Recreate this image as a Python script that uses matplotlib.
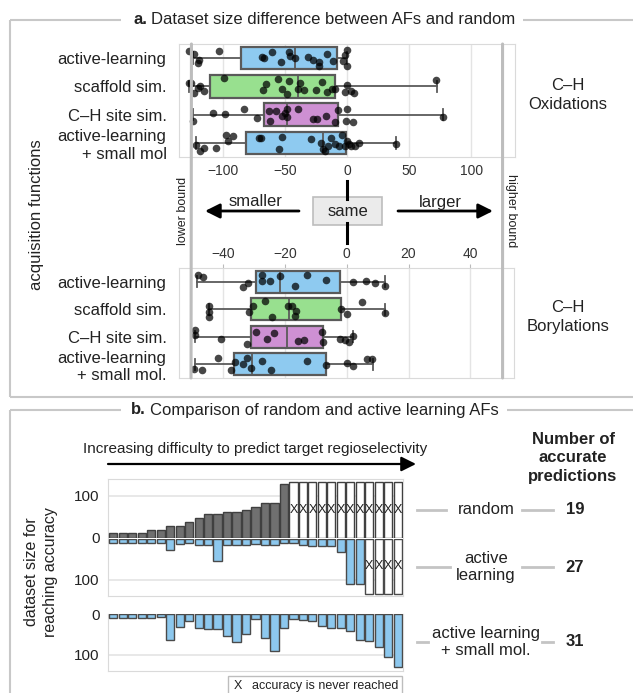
import numpy as np
import matplotlib
matplotlib.use('Agg')
import matplotlib.pyplot as plt
from matplotlib.patches import Rectangle, ConnectionPatch

plt.rcParams['font.family'] = ['Liberation Sans', 'DejaVu Sans']

# ---------------- data ----------------
ox_labels = ['active-learning', 'scaffold sim.', 'C–H site sim.', 'active-learning\n+ small mol']
bo_labels = ['active-learning', 'scaffold sim.', 'C–H site sim.', 'active-learning\n+ small mol.']
box_colors = ['#8ECAF0', '#98E08F', '#CE90D3', '#8ECAF0']

# box statistics (C-H oxidations)
ox_q1 = [-85, -110, -67, -81]
ox_med = [-42, -39, -48, -19]
ox_q3 = [-8, -10, -7, -1]
ox_lo = [-124, -127, -124, -121]
ox_hi = [0, 72, 77, 39]

ox_pts_al = [-127, -122.6, -120, -118.7, -103, -68, -67, -60, -53, -47, -46, -42, -31, -27.5,
             -22.6, -22.6, -16, -11, -3, -1.5, 0, 0]
ox_pts_sc = [-127, -125.5, -122.6, -120, -118, -115, -99, -67.5, -65, -55.8, -52.6, -48.3, -46.7,
             -39.5, -37.8, -34.6, -24.8, -20, -16, -11.9, -10, -2, 0, 3.4, 6, 71.8]
ox_pts_ch = [-124, -108, -98, -83, -72, -63, -62, -57, -52, -50, -48, -48, -39, -27.5, -24, -17,
             -9.6, -7, -0.5, 0, 5, 77]
ox_pts_sm = [-121, -118, -115, -105.6, -97.5, -96, -91.7, -70.5, -69, -55, -52.6, -29, -21, -19.5,
             -18, -15.5, -13, -10, -6.5, -4, -2, 0, 1.6, 3.4, 6.6, 9.3, 39]

# box statistics (C-H borylations)
bo_q1 = [-29.6, -30.9, -31.2, -36.7]
bo_med = [-21.7, -18.7, -19.5, -30.7]
bo_q3 = [-2.2, -1.8, -7.7, -6.8]
bo_lo = [-48.6, -44.6, -49.3, -49.3]
bo_hi = [12.4, 12.4, 2.0, 8.6]

bo_pts_al = [-48.2, -46.6, -33.8, -32, -27.6, -27.6, -25, -21.7, -16.8, -13, -6.9, 2, 6.1, 9, 12.4]
bo_pts_sc = [-44.6, -44.6, -44.6, -31.7, -30.3, -26.5, -24.4, -19.1, -17.9, -16.8, -16.5, -1.9,
             0.2, 5, 12.4]
bo_pts_ch = [-49.3, -49.3, -40.7, -32.5, -29.5, -25.9, -23.5, -15.8, -13.9, -8, -7.7, -2.2, -0.7,
             0.8, 2]
bo_pts_sm = [-49.5, -46.8, -41.7, -37.7, -36.3, -33.6, -32.5, -30.9, -27.6, -24.6, -12.8, -6.9,
             0.1, 2, 6.4, 8.2]

ox_ticks = [-100, -50, 0, 50, 100]
bo_ticks = [-40, -20, 0, 20, 40]
ox_bounds = [-125, 125]
bo_bounds = [-50.5, 50.5]

# panel b: dataset size needed to reach accuracy (per target, sorted by difficulty)
n_targets = 31
rand_vals = [10, 10, 10, 10, 18, 19, 28, 28, 38, 46, 56, 56, 60, 60, 66, 72, 82, 82, 128]
al_vals = [10, 10, 10, 10, 10, 10, 28, 14, 11, 16, 16, 55, 16, 16, 16, 14, 16, 16, 11, 11,
           16, 18, 18, 18, 32, 111, 111]
alsm_vals = [10, 10, 10, 10, 11, 8, 65, 33, 18, 34, 38, 38, 55, 69, 48, 13, 59, 90, 34, 12,
             15, 18, 29, 34, 34, 41, 63, 67, 82, 106, 131]
never_height = 134
row_names = ['random', 'active\nlearning', 'active learning\n+ small mol.']

# ---------------- figure ----------------
W, H = 633, 693
fig = plt.figure(figsize=(W / 100, H / 100), dpi=100)


def px_axes(x0, y0, x1, y1, **kw):
    return fig.add_axes([x0 / W, 1 - y1 / H, (x1 - x0) / W, (y1 - y0) / H], **kw)


bg = px_axes(0, 0, W, H)
bg.set_xlim(0, W)
bg.set_ylim(H, 0)
bg.axis('off')
bg.set_zorder(-5)

FRAME = '#C8C8C8'
GRID = '#E4E4E4'
SPINE = '#DADADA'
TXT = '#222222'


def box_panel(ax, q1, med, q3, lo, hi, pts_list, labels, xlim, ticks, ticks_top):
    stats = []
    for i in range(4):
        stats.append(dict(q1=q1[i], med=med[i], q3=q3[i], whislo=lo[i], whishi=hi[i], label=''))
    bp = ax.bxp(stats, positions=range(4), widths=0.8, orientation='horizontal', patch_artist=True,
                showfliers=False, capwidths=0.4,
                boxprops=dict(edgecolor='#5A5A5A', linewidth=1.6),
                medianprops=dict(color='#5A5A5A', linewidth=1.3),
                whiskerprops=dict(color='#5A5A5A', linewidth=1.3),
                capprops=dict(color='#5A5A5A', linewidth=1.3))
    for patch, c in zip(bp['boxes'], box_colors):
        patch.set_facecolor(c)
    rng = np.random.default_rng(3)
    for i, pts in enumerate(pts_list):
        jit = rng.uniform(-0.3, 0.3, len(pts))
        ax.scatter(pts, i + jit, s=30, color='black', alpha=0.72, linewidths=0, zorder=5)
    ax.set_ylim(3.5, -0.5)
    ax.set_xlim(*xlim)
    ax.set_yticks(range(4))
    ax.set_yticklabels(labels, fontsize=12, color=TXT)
    ax.set_xticks(ticks)
    ax.set_xticklabels([str(t).replace('-', '−') for t in ticks], fontsize=10, color='#333333')
    ax.grid(axis='x', color=GRID, linewidth=1)
    ax.set_axisbelow(True)
    for s in ax.spines.values():
        s.set_color(SPINE)
    ax.tick_params(axis='y', length=0, pad=9)
    if ticks_top:
        ax.xaxis.tick_top()
        ax.tick_params(axis='x', length=3, color='#BBBBBB', pad=2)
    else:
        ax.tick_params(axis='x', length=0, pad=5)


ax_ox = px_axes(179, 44, 515, 157)
box_panel(ax_ox, ox_q1, ox_med, ox_q3, ox_lo, ox_hi,
          [ox_pts_al, ox_pts_sc, ox_pts_ch, ox_pts_sm], ox_labels, (-135, 135), ox_ticks, False)
ax_bo = px_axes(179, 268, 514, 378)
box_panel(ax_bo, bo_q1, bo_med, bo_q3, bo_lo, bo_hi,
          [bo_pts_al, bo_pts_sc, bo_pts_ch, bo_pts_sm], bo_labels, (-54.4, 54.2), bo_ticks, True)

# bound lines spanning both box panels
for b_top, b_bot in zip(ox_bounds, bo_bounds):
    con = ConnectionPatch(xyA=(b_top, 1), coordsA=ax_ox.get_xaxis_transform(),
                          xyB=(b_bot, 0), coordsB=ax_bo.get_xaxis_transform(),
                          color='#BDBDBD', linewidth=2.2, zorder=3)
    fig.add_artist(con)


def panel_title(x_left, y, letter, rest):
    t = bg.text(x_left, y, letter, fontsize=12, fontweight='bold', ha='left', va='center', color=TXT)
    bg.annotate(rest, xy=(1, 0.5), xycoords=t, xytext=(3, 0), textcoords='offset points',
                fontsize=12, ha='left', va='center', color=TXT)


# panel a frame and title
for (x0, y0, x1, y1) in [(10, 20, 121, 20), (523, 20, 633, 20), (10, 20, 10, 397), (10, 397, 633, 397)]:
    bg.plot([x0, x1], [y0, y1], color=FRAME, linewidth=1.5, solid_capstyle='butt')
panel_title(133, 20, 'a.', 'Dataset size difference between AFs and random')
bg.text(568, 95, 'C–H\nOxidations', fontsize=12, ha='center', va='center', color=TXT, linespacing=1.3)
bg.text(568, 317, 'C–H\nBorylations', fontsize=12, ha='center', va='center', color=TXT, linespacing=1.3)
bg.text(37, 215, 'acquisition functions', fontsize=12, rotation=90, ha='center', va='center', color=TXT)
bg.text(183, 211, 'lower bound', fontsize=9, rotation=90, ha='center', va='center', color=TXT)
bg.text(511, 211, 'higher bound', fontsize=9, rotation=270, ha='center', va='center', color=TXT)

# smaller / same / larger
bg.annotate('', xy=(205, 211), xytext=(299, 211),
            arrowprops=dict(arrowstyle='-|>', color='black', lw=2, mutation_scale=22, shrinkA=0, shrinkB=0))
bg.annotate('', xy=(493, 211), xytext=(398, 211),
            arrowprops=dict(arrowstyle='-|>', color='black', lw=2, mutation_scale=22, shrinkA=0, shrinkB=0))
bg.text(256, 202, 'smaller', fontsize=12, ha='center', va='center', color=TXT)
bg.text(440, 202, 'larger', fontsize=12, ha='center', va='center', color=TXT)
bg.plot([347, 347], [181, 199], color='black', linewidth=2.2)
bg.plot([347, 347], [223, 243], color='black', linewidth=2.2)
bg.add_patch(Rectangle((313, 197), 69, 28, facecolor='#EBEBEB', edgecolor='#BDBDBD', linewidth=1.2))
bg.text(347.5, 211.5, 'same', fontsize=12, ha='center', va='center', color=TXT)

# ---------------- panel b ----------------
for (x0, y0, x1, y1) in [(10, 410, 121, 410), (507, 410, 633, 410), (10, 410, 10, 693)]:
    bg.plot([x0, x1], [y0, y1], color=FRAME, linewidth=1.5, solid_capstyle='butt')
panel_title(131, 410, 'b.', 'Comparison of random and active learning AFs')
bg.text(255, 449, 'Increasing difficulty to predict target regioselectivity', fontsize=11,
        ha='center', va='center', color=TXT)
bg.annotate('', xy=(416, 464), xytext=(108, 464),
            arrowprops=dict(arrowstyle='-|>', color='black', lw=1.6, mutation_scale=22, shrinkA=0, shrinkB=0))
bg.text(573, 458, 'Number of\naccurate\npredictions', fontsize=12, fontweight='bold',
        ha='center', va='center', color=TXT, linespacing=1.3)
bg.text(41, 572, 'dataset size for\nreaching accuracy', fontsize=11.5, rotation=90,
        ha='center', va='center', color=TXT, linespacing=1.25)

GRAY_FC, GRAY_EC = '#707070', '#404040'
BLUE_FC, BLUE_EC = '#8DC8EE', '#4A4A4A'


def bar_panel(ax, vals, fc, ec, inverted, yticks):
    x = np.arange(n_targets)
    n = len(vals)
    ax.bar(x[:n], vals, width=0.86, color=fc, edgecolor=ec, linewidth=1, zorder=3)
    if n < n_targets:
        ax.bar(x[n:], [never_height] * (n_targets - n), width=0.86, color='white', edgecolor=ec,
               linewidth=1, zorder=3)
        for xi in x[n:]:
            ax.text(xi, never_height / 2, 'X', ha='center', va='center', fontsize=9, color='#222222',
                    zorder=4)
    ax.set_xlim(-0.55, n_targets - 0.45)
    if inverted:
        ax.set_ylim(140, 0)
    else:
        ax.set_ylim(0, 140)
    ax.set_xticks([])
    ax.set_yticks(yticks)
    ax.set_yticklabels([str(t) for t in yticks], fontsize=11, color=TXT)
    ax.tick_params(axis='y', length=0, pad=6)
    ax.grid(axis='y', color=GRID, linewidth=1.2, zorder=0)
    ax.set_axisbelow(True)
    for s in ax.spines.values():
        s.set_color(SPINE)


ax_r = px_axes(108, 479, 403, 537.5)
bar_panel(ax_r, rand_vals, GRAY_FC, GRAY_EC, False, [0, 100])
ax_r.spines['bottom'].set_visible(False)
ax_a = px_axes(108, 538.5, 403, 596)
bar_panel(ax_a, al_vals, BLUE_FC, BLUE_EC, True, [100])
ax_a.spines['top'].set_visible(False)
ax_s = px_axes(108, 614, 403, 671)
bar_panel(ax_s, alsm_vals, BLUE_FC, BLUE_EC, True, [0, 100])

# row labels with gray connectors
row_y = [510, 567, 642]
counts = [len(rand_vals), len(al_vals), len(alsm_vals)]
conn = [((417, 446), (522, 553)), ((417, 450), (522, 553)), ((417, 428), (542, 553))]
for yy, name, cnt, (l1, l2) in zip(row_y, row_names, counts, conn):
    bg.plot(l1, [yy, yy], color='#C4C4C4', linewidth=2)
    bg.plot(l2, [yy, yy], color='#C4C4C4', linewidth=2)
    bg.text(486, yy, name, fontsize=12, ha='center', va='center', color=TXT, linespacing=1.15)
    bg.text(575, yy, str(cnt), fontsize=12, fontweight='bold', ha='center', va='center', color=TXT)

# legend box
bg.add_patch(Rectangle((228, 676), 174, 20, facecolor='white', edgecolor='#BDBDBD', linewidth=1))
bg.text(234, 686, 'X', fontsize=9, ha='left', va='center', color=TXT)
bg.text(252, 686, 'accuracy is never reached', fontsize=9, ha='left', va='center', color=TXT)

fig.savefig('out.png', dpi=100)
